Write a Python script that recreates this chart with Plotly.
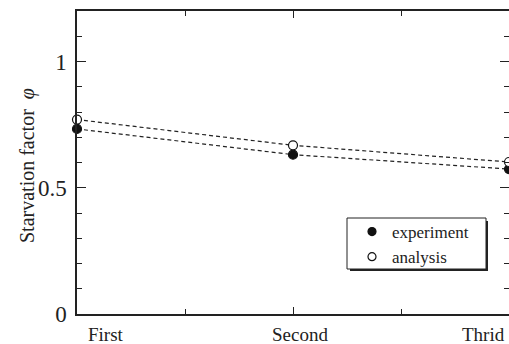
import plotly.graph_objects as go

categories = ["First", "Second", "Thrid"]
x_pos = [0, 1, 2]
experiment = [0.733, 0.631, 0.574]
analysis = [0.770, 0.668, 0.602]
y_tickvals = [0, 0.5, 1]
y_ticktext = ["0", "0.5", "1"]

FONT = "Liberation Serif"
W, H = 509, 344
L, R, T, B = 77, 0, 11, 30
pw = W - L - R
ph = H - T - B

def px_x(p):
    return (p - L) / pw

def px_y(p):
    return (H - B - p) / ph

fig = go.Figure()
series = [("experiment", experiment, "#111"), ("analysis", analysis, "white")]
for name, vals, fill in series:
    fig.add_trace(go.Scatter(
        x=x_pos, y=vals, name=name, mode="lines+markers", showlegend=False,
        line=dict(color="#222", width=1.2, dash="4px,3px"),
        marker=dict(symbol="circle", size=9, color=fill, line=dict(color="#111", width=1.2)),
        cliponaxis=False, hoverinfo="skip",
    ))
for name, vals, fill in series:
    fig.add_trace(go.Scatter(
        x=[None], y=[None], name=name, mode="markers", showlegend=True,
        marker=dict(symbol="circle", size=8, color=fill, line=dict(color="#111", width=1.2)),
    ))

axis_common = dict(showline=True, linecolor="#222", linewidth=1.5, mirror="allticks",
                   ticks="inside", tickcolor="#222", showgrid=False, zeroline=False,
                   automargin=False)

fig.update_xaxes(range=[0, 2], tickvals=x_pos, ticktext=["", "", ""], ticklen=7,
                 minor=dict(ticks="inside", dtick=0.5, tick0=0, ticklen=5, tickcolor="#222"),
                 **axis_common)
fig.update_yaxes(range=[0, 1.2], tickvals=y_tickvals, ticktext=y_ticktext, ticklen=9,
                 tickfont=dict(family=FONT, size=23, color="#222"), ticklabelstandoff=4,
                 minor=dict(ticks="inside", dtick=0.1, tick0=0, ticklen=5, tickcolor="#222"),
                 **axis_common)

annotations = []
xl_font = dict(family=FONT, size=19, color="#222")
annotations.append(dict(x=x_pos[0], y=0, xref="x", yref="paper", text=categories[0],
                        xanchor="left", yanchor="top", xshift=9, yshift=-8, showarrow=False,
                        font=xl_font))
annotations.append(dict(x=x_pos[1], y=0, xref="x", yref="paper", text=categories[1],
                        xanchor="center", yanchor="top", xshift=7, yshift=-8, showarrow=False,
                        font=xl_font))
annotations.append(dict(x=x_pos[2], y=0, xref="x", yref="paper", text=categories[2],
                        xanchor="right", yanchor="top", xshift=-2, yshift=-8, showarrow=False,
                        font=xl_font))
annotations.append(dict(x=px_x(27), y=px_y(166), xref="paper", yref="paper",
                        text="Starvation factor  <i>φ</i>", textangle=-90,
                        xanchor="center", yanchor="middle", showarrow=False,
                        font=dict(family=FONT, size=20, color="#222")))

shapes = [
    dict(type="rect", xref="paper", yref="paper", x0=px_x(350), x1=px_x(488),
         y0=px_y(271), y1=px_y(221), fillcolor="#222", line=dict(width=0), layer="above"),
    dict(type="rect", xref="paper", yref="paper", x0=px_x(347), x1=px_x(486),
         y0=px_y(269), y1=px_y(218), fillcolor="white", line=dict(color="#222", width=1), layer="above"),
]

fig.update_layout(
    width=W, height=H,
    margin=dict(l=L, r=R, t=T, b=B, pad=0),
    paper_bgcolor="white", plot_bgcolor="white",
    showlegend=True, hovermode=False,
    legend=dict(x=px_x(352), y=px_y(214), xanchor="left", yanchor="top",
                bgcolor="rgba(0,0,0,0)", borderwidth=0,
                font=dict(family=FONT, size=17, color="#222"),
                itemwidth=30, tracegroupgap=0),
    annotations=annotations,
    shapes=shapes,
)

fig.write_html("out.html", config={"displayModeBar": False},
               post_script="document.body.style.margin='0';document.body.style.padding='0';")
